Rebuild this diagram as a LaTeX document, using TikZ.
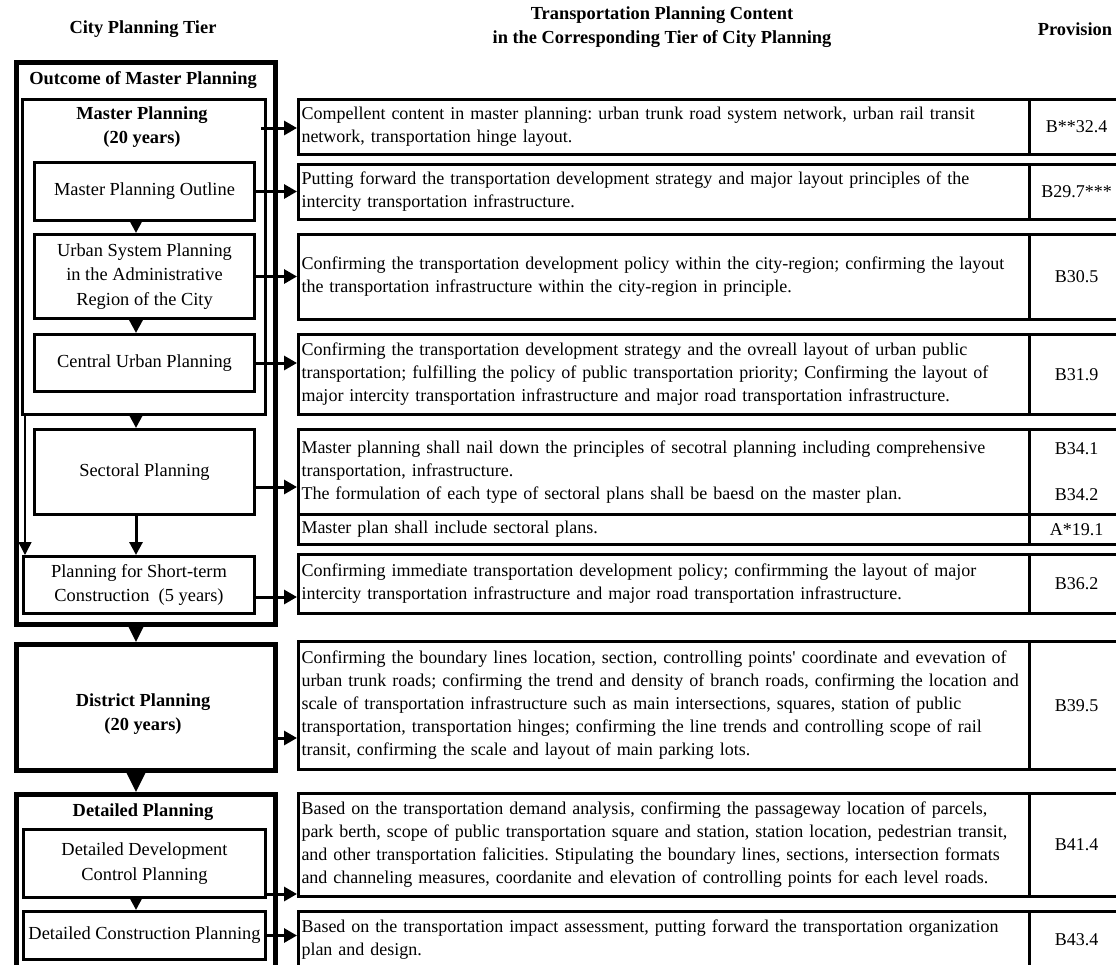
\documentclass[tikz,border=0pt]{standalone}
\usepackage{fontspec}
\setmainfont{Liberation Serif}
\usetikzlibrary{arrows.meta}
\frenchspacing
\newcommand\tabfont{\fontsize{18}{23}\selectfont}
\newcommand\boxfont{\fontsize{18.4}{24.5}\selectfont}

\begin{document}
\begin{tikzpicture}[x=1pt,y=-1pt,font=\tabfont,
    box/.style={draw, line width=3pt, inner sep=0pt, align=center, anchor=north west, font=\boxfont},
    bigbox/.style={box, line width=5pt},
    title/.style={font=\boxfont\bfseries, align=center},
    cell/.style={draw, line width=3pt, inner xsep=3pt, inner ysep=0pt, text width=725pt, align=left, anchor=north west},
    prov/.style={draw, line width=3pt, inner sep=0pt, minimum width=94pt, align=center, anchor=north west},
    harrow/.style={line width=3pt, -{Triangle[length=13pt,width=14pt]}},
    varrow/.style={line width=3pt, -{Triangle[length=13pt,width=13pt]}},
    bigarrow/.style={line width=3pt, -{Triangle[length=19pt,width=18pt]}}]
    \clip (0,0) rectangle (1116,964);

    \node[font=\boxfont\bfseries] (tierhead) at (143,29) {City Planning Tier};
    \node[font=\boxfont\bfseries, align=center] (contenthead) at (662,27) {Transportation Planning Content\\in the Corresponding Tier of City Planning};
    \node[font=\boxfont\bfseries] (provhead) at (1075,29) {Provision};

    \node[bigbox, minimum width=259pt, minimum height=562pt] (outcome) at (14,60) {};
    \node[title] (outcometitle) at (143,80) {Outcome of Master Planning};
    \node[box, minimum width=243pt, minimum height=315pt] (master) at (21,98) {};
    \node[title] (mastertitle) at (142,127) {Master Planning\\(20 years)};
    \node[box, minimum width=220pt, minimum height=58pt] (outline) at (33,161) {Master Planning Outline};
    \node[box, minimum width=220pt, minimum height=84pt] (urban) at (33,233) {Urban System Planning\\in the Administrative\\Region of the City};
    \node[box, minimum width=220pt, minimum height=57pt] (central) at (33,333) {Central Urban Planning};
    \node[box, minimum width=220pt, minimum height=85pt] (sectoral) at (33,428) {Sectoral Planning};
    \node[box, minimum width=231pt, minimum height=57pt] (short) at (22,555) {Planning for Short-term\\Construction\ \ (5 years)};
    \node[bigbox, minimum width=259pt, minimum height=126pt] (district) at (14,642) {};
    \node[title] (districttitle) at (143,714) {District Planning\\(20 years)};
    \node[bigbox, minimum width=259pt, minimum height=200pt] (detailed) at (14,792) {};
    \node[title] (detailedtitle) at (143,812) {Detailed Planning};
    \node[box, minimum width=242pt, minimum height=68pt] (detdev) at (22,828) {Detailed Development\\Control Planning};
    \node[box, minimum width=242pt, minimum height=48pt] (detcon) at (22,910) {Detailed Construction Planning};

    \node[cell, minimum height=55pt] (r1) at (297,98) {Compellent content in master planning: urban trunk road system network, urban rail transit\\network, transportation hinge layout.};
    \node[prov, minimum height=55pt] (p1) at (1028,98) {B**32.4};
    \node[cell, minimum height=55pt] (r2) at (297,163) {Putting forward the transportation development strategy and major layout principles of the\\intercity transportation infrastructure.};
    \node[prov, minimum height=55pt] (p2) at (1028,163) {B29.7***};
    \node[cell, minimum height=85pt] (r3) at (297,233) {Confirming the transportation development policy within the city-region; confirming the layout\\the transportation infrastructure within the city-region in principle.};
    \node[prov, minimum height=85pt] (p3) at (1028,233) {B30.5};
    \node[cell, minimum height=80pt] (r4) at (297,333) {Confirming the transportation development strategy and the ovreall layout of urban public\\transportation; fulfilling the policy of public transportation priority; Confirming the layout of\\major intercity transportation infrastructure and major road transportation infrastructure.};
    \node[prov, minimum height=80pt] (p4) at (1028,333) {B31.9};
    \node[cell, minimum height=85pt] (r5) at (297,428) {Master planning shall nail down the principles of secotral planning including comprehensive\\transportation, infrastructure.\\The formulation of each type of sectoral plans shall be baesd on the master plan.};
    \node[prov, minimum height=85pt] (p5) at (1028,428) {B34.1\\[23pt]B34.2};
    \node[cell, minimum height=30pt] (r5b) at (297,513) {Master plan shall include sectoral plans.};
    \node[prov, minimum height=30pt] (p5b) at (1028,513) {A*19.1};
    \node[cell, minimum height=59pt] (r6) at (297,553) {Confirming immediate transportation development policy; confirmming the layout of major\\intercity transportation infrastructure and major road transportation infrastructure.};
    \node[prov, minimum height=59pt] (p6) at (1028,553) {B36.2};
    \node[cell, minimum height=128pt] (r7) at (297,640) {Confirming the boundary lines location, section, controlling points\textquotesingle{} coordinate and evevation of\\urban trunk roads; confirming the trend and density of branch roads, confirming the location and\\scale of transportation infrastructure such as main intersections, squares, station of public\\transportation, transportation hinges; confirming the line trends and controlling scope of rail\\transit, confirming the scale and layout of main parking lots.};
    \node[prov, minimum height=128pt] (p7) at (1028,640) {B39.5};
    \node[cell, minimum height=103pt] (r8) at (297,792) {Based on the transportation demand analysis, confirming the passageway location of parcels,\\park berth, scope of public transportation square and station, station location, pedestrian transit,\\and other transportation falicities. Stipulating the boundary lines, sections, intersection formats\\and channeling measures, coordanite and elevation of controlling points for each level roads.};
    \node[prov, minimum height=103pt] (p8) at (1028,792) {B41.4};
    \node[cell, minimum height=56pt] (r9) at (297,910) {Based on the transportation impact assessment, putting forward the transportation organization\\plan and design.};
    \node[prov, minimum height=56pt] (p9) at (1028,910) {B43.4};

    \coordinate (mid) at (136,0);
    \coordinate (thin) at (25,0);
    \draw[varrow] (mid |- outline.south) -- (mid |- urban.north);
    \draw[varrow] (mid |- urban.south) -- (mid |- central.north);
    \draw[varrow] (mid |- master.south) -- (mid |- sectoral.north);
    \draw[varrow] (mid |- sectoral.south) -- (mid |- short.north);
    \draw[line width=1.5pt, -{Triangle[length=13pt,width=13pt]}] (thin |- master.south) -- (thin |- short.north);
    \draw[bigarrow] (mid |- outcome.south) -- (mid |- district.north);
    \draw[bigarrow] (mid |- district.south) -- (mid |- detailed.north);
    \draw[varrow] (mid |- detdev.south) -- (mid |- detcon.north);

    \coordinate (a1) at (261,128);
    \coordinate (a5) at (253,487);
    \coordinate (a6) at (253,597);
    \coordinate (a7) at (273,738);
    \coordinate (a8) at (264,894);
    \draw[harrow] (a1) -- (a1 -| r1.west);
    \draw[harrow] (outline.east) -- (outline.east -| r2.west);
    \draw[harrow] (urban.east) -- (urban.east -| r3.west);
    \draw[harrow] (central.east) -- (central.east -| r4.west);
    \draw[harrow] (a5) -- (a5 -| r5.west);
    \draw[harrow] (a6) -- (a6 -| r6.west);
    \draw[harrow] (a7) -- (a7 -| r7.west);
    \draw[harrow] (a8) -- (a8 -| r8.west);
    \draw[harrow] (detcon.east) -- (detcon.east -| r9.west);
\end{tikzpicture}
\end{document}
